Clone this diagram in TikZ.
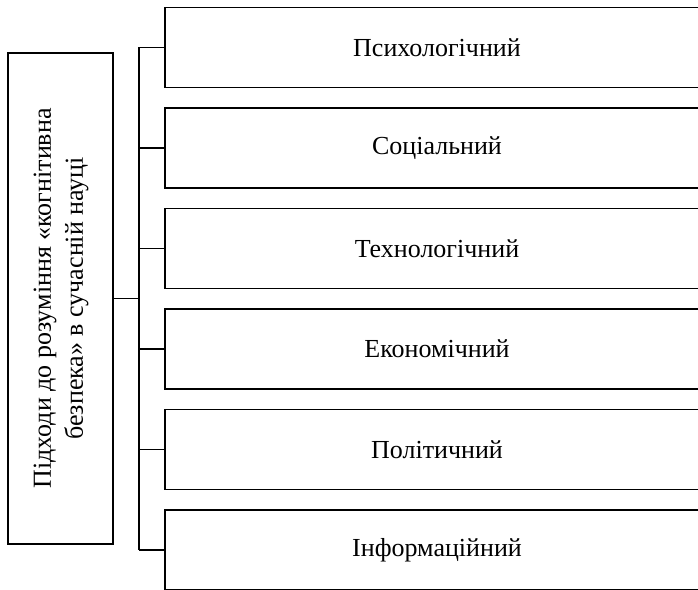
\documentclass[tikz,border=0pt]{standalone}
\usepackage{fontspec}
\setmainfont{Liberation Serif}
\usetikzlibrary{positioning}

\tikzset{
    approach/.style={rectangle, draw, line width=0.6pt, outer sep=0pt, minimum width=272pt, minimum height=40pt, font=\fontsize{13}{15}\selectfont},
    link/.style={line width=0.6pt}
}

\begin{document}
\begin{tikzpicture}
    \useasboundingbox (0,0) rectangle (349pt,295pt);
    \clip (0,0) rectangle (349pt,295pt);
    \begin{scope}[node distance=10.25pt]
        % Main block
        \node[rectangle, draw, line width=0.6pt, outer sep=0pt, minimum width=52.5pt, minimum height=245.5pt, inner sep=0pt, font=\fontsize{13}{16}\selectfont] (root) at (30.25pt,145.75pt) {\rotatebox{90}{\begin{tabular}{c}
            Підходи до розуміння «когнітивна\\
            безпека» в сучасній науці
        \end{tabular}}};

        % Approaches
        \node[approach, anchor=north west] (psych) at (82.5pt,291.25pt) {Психологічний};
        \node[approach, below=of psych] (social) {Соціальний};
        \node[approach, below=of social] (tech) {Технологічний};
        \node[approach, below=of tech] (econ) {Економічний};
        \node[approach, below=of econ] (polit) {Політичний};
        \node[approach, below=of polit] (inform) {Інформаційний};

        % Connectors
        \coordinate (bus) at (69.5pt,0);
        \draw[link] (root.east) -- (root.east -| bus);
        \draw[link] (psych.west -| bus) -- (inform.west -| bus);
        \foreach \n in {psych, social, tech, econ, polit, inform}
            \draw[link] (\n.west -| bus) -- (\n.west);
    \end{scope}
\end{tikzpicture}
\end{document}
